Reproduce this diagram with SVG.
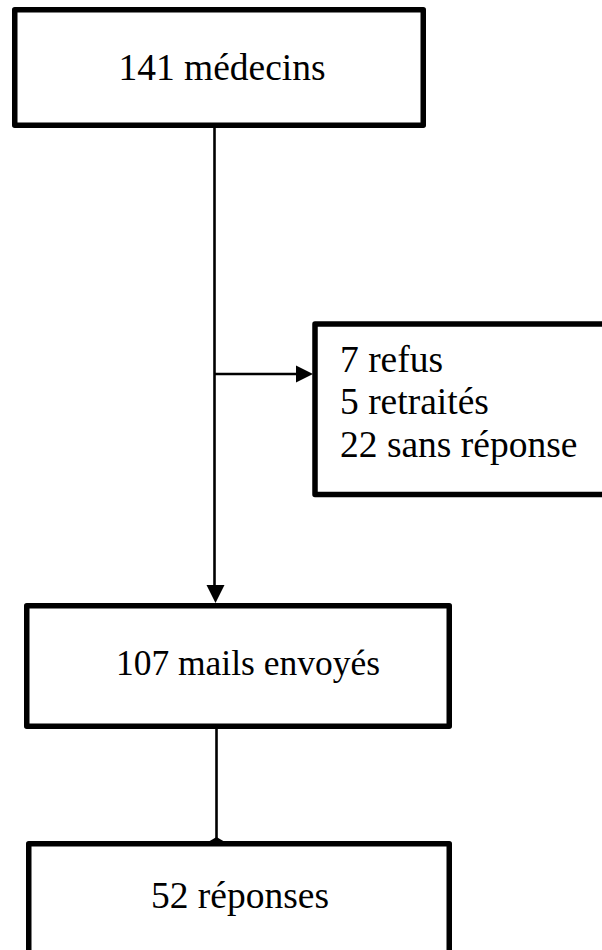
<svg xmlns="http://www.w3.org/2000/svg" width="602" height="950" viewBox="0 0 602 950">
<style>
.box{fill:#fff;stroke:#000;stroke-width:5.5;stroke-linejoin:round}
.t{font-family:"Liberation Serif","Times New Roman",serif;font-size:37.5px;fill:#000}
.c{stroke:#000;stroke-width:2.6;fill:none}
</style>
<rect width="602" height="950" fill="#fff"/>
<g id="connectors">
<line class="c" x1="214.5" y1="128" x2="214.5" y2="588"/>
<polygon points="206.5,585 224.5,585 215.5,603" fill="#000"/>
<line class="c" x1="214.5" y1="374" x2="298" y2="374"/>
<polygon points="296,365.5 296,382.5 313,374" fill="#000"/>
<line class="c" x1="216.5" y1="729" x2="216.5" y2="840"/>
<polygon points="208,842 225,842 216.5,837" fill="#000"/>
</g>
<g id="n1">
<rect class="box" x="14.75" y="9.75" width="408.5" height="115.5"/>
<text class="t" x="222" y="80" text-anchor="middle">141 médecins</text>
</g>
<g id="n2">
<rect class="box" x="315" y="324" width="295" height="170.5"/>
<text class="t" x="340" y="372">7 refus</text>
<text class="t" x="340" y="414">5 retraités</text>
<text class="t" x="340" y="457">22 sans réponse</text>
</g>
<g id="n3">
<rect class="box" x="26.75" y="605.75" width="422.5" height="120.5"/>
<text class="t" x="248" y="675" text-anchor="middle" style="font-size:35.5px">107 mails envoyés</text>
</g>
<g id="n4">
<rect class="box" x="28.75" y="843.75" width="420.5" height="130"/>
<text class="t" x="240" y="908" text-anchor="middle">52 réponses</text>
</g>
</svg>
